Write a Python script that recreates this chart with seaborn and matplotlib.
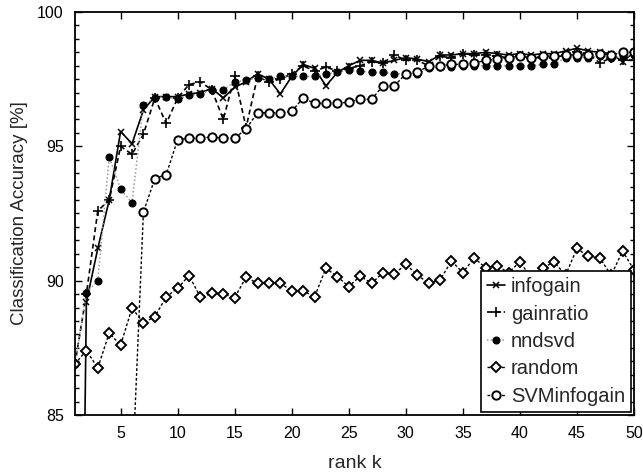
import numpy as np
import pandas as pd
import matplotlib
matplotlib.use("Agg")
import matplotlib.pyplot as plt
import seaborn as sns
from matplotlib.ticker import MultipleLocator

# ---------------- data ----------------
k_all = list(range(1, 51))

infogain = [55.0, 89.2, 91.2, 93.0, 95.55, 95.1, 96.35, 96.85, 96.85, 96.85,
            96.95, 97.0, 97.15, 96.8, 97.2, 97.4, 97.7, 97.5, 96.95, 97.6,
            98.05, 97.9, 97.25, 97.75, 98.0, 98.2, 98.2, 98.1, 98.2, 98.3,
            98.25, 98.15, 98.4, 98.4, 98.45, 98.45, 98.5, 98.45, 98.4, 98.45,
            98.4, 98.45, 98.45, 98.55, 98.65, 98.55, 98.5, 98.45, 98.15, 98.5]

gainratio = [86.9, 89.5, 92.6, 93.0, 95.0, 94.7, 95.45, 96.8, 95.85, 96.8,
             97.3, 97.4, 97.1, 96.0, 97.6, 95.7, 97.6, 97.4, 97.5, 97.7,
             98.0, 97.8, 97.95, 97.8, 97.9, 98.0, 98.15, 98.1, 98.4, 98.2,
             98.2, 98.0, 98.35, 98.3, 98.45, 98.4, 98.4, 98.35, 98.3, 98.35,
             98.3, 98.3, 98.3, 98.4, 98.5, 98.45, 98.1, 98.3, 98.2, 98.2]

nndsvd = [86.9, 89.55, 90.0, 94.6, 93.4, 92.9, 96.55, 96.8, 96.85, 96.75,
          96.9, 96.95, 97.1, 97.1, 97.4, 97.45, 97.55, 97.5, 97.6, 97.6,
          97.6, 97.6, 97.7, 97.75, 97.85, 97.8, 97.75, 97.75, 97.7, 97.7,
          97.7, 97.9, 97.95, 97.95, 98.0, 98.0, 98.0, 98.0, 98.0, 98.0,
          98.0, 98.05, 98.05, 98.3, 98.3, 98.3, 98.35, 98.3, 98.35, 98.4]

random_ = [86.9, 87.4, 86.75, 88.05, 87.6, 88.98, 88.43, 88.66, 89.4, 89.72,
           90.19, 89.38, 89.53, 89.5, 89.37, 90.13, 89.9, 89.93, 89.9, 89.62,
           89.62, 89.4, 90.46, 90.15, 89.78, 90.17, 89.9, 90.3, 90.25, 90.61,
           90.21, 89.9, 90.03, 90.73, 90.3, 90.85, 90.47, 90.55, 90.3, 90.7,
           90.1, 90.47, 90.7, 90.2, 91.2, 90.9, 90.85, 90.2, 91.1, 90.4]

k_svm = list(range(6, 51))
svminfogain = [82.5, 92.55, 93.8, 93.95, 95.25, 95.3, 95.3, 95.35, 95.3, 95.3,
               95.65, 96.25, 96.25, 96.25, 96.3, 96.8, 96.6, 96.6, 96.6, 96.65,
               96.75, 96.75, 97.25, 97.25, 97.7, 97.75, 98.0, 98.0, 98.05, 98.05,
               98.1, 98.2, 98.25, 98.3, 98.35, 98.3, 98.35, 98.35, 98.4, 98.4,
               98.4, 98.45, 98.4, 98.5, 98.5]

labels = ["infogain", "gainratio", "nndsvd", "random", "SVMinfogain"]

# ---------------- figure ----------------
sns.set_style("ticks")
plt.rcParams["font.family"] = ["Liberation Sans", "DejaVu Sans"]

fig = plt.figure(figsize=(6.43, 4.72), dpi=100)
ax = fig.add_axes([0.1166, 0.1208, 0.8694, 0.8538])

styles = [
    dict(x=k_all, y=infogain, label=labels[0], color="black", linestyle="-",
         lw=1.2, marker="x", ms=5, mew=1.1, mfc="black", mec="black"),
    dict(x=k_all, y=gainratio, label=labels[1], color="black", linestyle=(0, (3, 2)),
         lw=1.2, marker="+", ms=7, mew=1.2, mfc="black", mec="black"),
    dict(x=k_all, y=nndsvd, label=labels[2], color="#999999", linestyle=(0, (1, 1.5)),
         lw=1.1, marker="o", ms=5, mew=0.8, mfc="black", mec="black"),
    dict(x=k_all, y=random_, label=labels[3], color="black", linestyle=(0, (2, 1.5)),
         lw=1.0, marker="D", ms=5, mew=1.4, mfc="white", mec="black"),
    dict(x=k_svm, y=svminfogain, label=labels[4], color="black", linestyle=(0, (2, 1.5)),
         lw=1.0, marker="o", ms=6, mew=1.4, mfc="white", mec="black"),
]

for s in styles:
    sns.lineplot(x=s["x"], y=s["y"], ax=ax, label=s["label"], color=s["color"],
                 linestyle=s["linestyle"], linewidth=s["lw"], marker=s["marker"],
                 markersize=s["ms"], markeredgewidth=s["mew"],
                 markerfacecolor=s["mfc"], markeredgecolor=s["mec"])

ax.set_xlim(1, 50)
ax.set_ylim(85, 100)
ax.xaxis.set_major_locator(MultipleLocator(5))
ax.yaxis.set_major_locator(MultipleLocator(5))
ax.yaxis.set_minor_locator(MultipleLocator(0.5))
ax.tick_params(which="both", direction="in", top=True, right=True, colors="black",
               labelsize=11.5, width=1.0)
ax.tick_params(which="major", length=5, pad=8)
ax.tick_params(which="minor", length=3)
for sp in ax.spines.values():
    sp.set_linewidth(1.3)
    sp.set_color("black")

ax.set_xlabel("rank k", fontsize=14, labelpad=10)
ax.set_ylabel("Classification Accuracy [%]", fontsize=13.5, labelpad=7)

leg = ax.legend(loc="lower right", fontsize=14.5, handlelength=0.9,
                handletextpad=0.3, labelspacing=0.42, borderpad=0.3,
                borderaxespad=0.15, frameon=True, fancybox=False,
                edgecolor="black", framealpha=1)
leg.get_frame().set_linewidth(1.2)

fig.savefig("out.png", dpi=100)
